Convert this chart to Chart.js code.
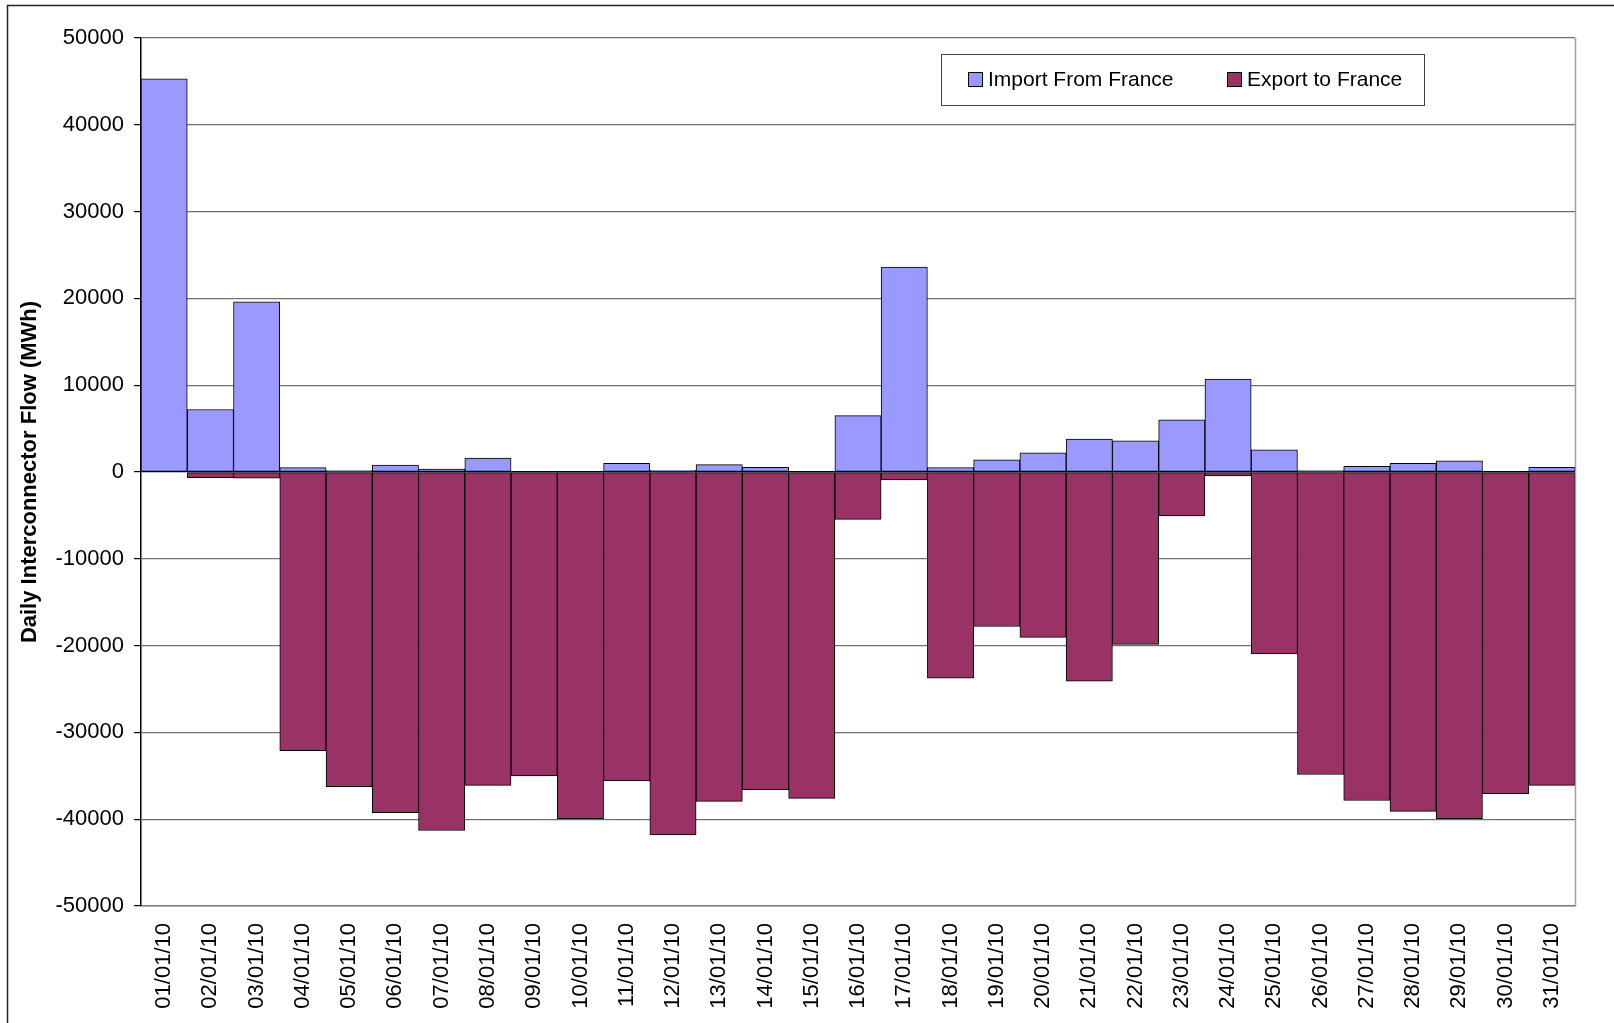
<!DOCTYPE html>
<html>
<head>
<meta charset="utf-8">
<script src="https://cdn.jsdelivr.net/npm/chart.js@4/dist/chart.umd.min.js"></script>
<style>
  html, body { margin: 0; padding: 0; background: #fff; }
  #wrap { width: 1614px; height: 1023px; position: relative; }
</style>
</head>
<body>
<div id="wrap"><canvas id="flowChart" width="1614" height="1023"></canvas></div>
<script>
const days = [
	"01/01/10", "02/01/10", "03/01/10", "04/01/10", "05/01/10", "06/01/10",
	"07/01/10", "08/01/10", "09/01/10", "10/01/10", "11/01/10", "12/01/10",
	"13/01/10", "14/01/10", "15/01/10", "16/01/10", "17/01/10", "18/01/10",
	"19/01/10", "20/01/10", "21/01/10", "22/01/10", "23/01/10", "24/01/10",
	"25/01/10", "26/01/10", "27/01/10", "28/01/10", "29/01/10", "30/01/10",
	"31/01/10",
];

// MWh per day
const importFromFrance = [
	45300, 7200, 19600, 500, 150, 800, 350, 1600, 0, 0, 1000, 200, 850, 550, 0,
	6500, 23600, 500, 1400, 2200, 3800, 3600, 6000, 10700, 2550, 150, 650, 1000,
	1300, 0, 550,
];
const exportToFrance = [
	0, -650, -700, -32100, -36250, -39250, -41300, -36100, -35000, -39950,
	-35600, -41800, -37950, -36600, -37600, -5450, -900, -23750, -17800, -19050,
	-24100, -19850, -5050, -450, -20950, -34850, -37850, -39100, -39950, -37050,
	-36100,
];

const yMin = -50000;
const yMax = 50000;
const yStep = 10000;

const FONT = "'Liberation Sans', Arial, sans-serif";
const IMPORT_COLOR = "#9999FF";
const EXPORT_COLOR = "#993366";

Chart.defaults.font.family = FONT;
Chart.defaults.color = "#000";

// white page + outer frame, right edge of plot, legend box
const decorPlugin = {
	id: "decor",
	beforeDraw(chart) {
		const ctx = chart.ctx;
		ctx.save();
		ctx.fillStyle = "#fff";
		ctx.fillRect(0, 0, chart.width, chart.height);
		ctx.strokeStyle = "#222";
		ctx.lineWidth = 1.5;
		ctx.beginPath();
		ctx.moveTo(7.5, chart.height + 2);
		ctx.lineTo(7.5, 5.5);
		ctx.lineTo(chart.width + 2, 5.5);
		ctx.stroke();
		ctx.restore();
	},
	afterDraw(chart) {
		const { ctx, chartArea: a } = chart;
		ctx.save();
		ctx.strokeStyle = "#a0a0a0";
		ctx.lineWidth = 1.5;
		ctx.beginPath();
		ctx.moveTo(a.right + 0.5, a.top);
		ctx.lineTo(a.right + 0.5, a.bottom);
		ctx.stroke();

		// legend
		const bx = a.right - 634;
		const by = a.top + 16;
		const bw = 483;
		const bh = 51;
		ctx.fillStyle = "#fff";
		ctx.fillRect(bx, by, bw, bh);
		ctx.strokeStyle = "#404040";
		ctx.lineWidth = 1;
		ctx.strokeRect(bx + 0.5, by + 0.5, bw, bh);
		ctx.font = "21px " + FONT;
		ctx.textBaseline = "middle";
		ctx.fillStyle = "#000";
		chart.data.datasets.forEach((ds, i) => {
			const mx = bx + 27 + i * 259;
			const my = by + 18;
			ctx.fillStyle = ds.backgroundColor;
			ctx.fillRect(mx, my, 14, 14);
			ctx.strokeStyle = "#000";
			ctx.strokeRect(mx + 0.5, my + 0.5, 14, 14);
			ctx.fillStyle = "#000";
			ctx.fillText(ds.label, mx + 20, my + 8);
		});
		ctx.restore();
	},
};

new Chart(document.getElementById("flowChart"), {
	type: "bar",
	data: {
		labels: days,
		datasets: [
			{
				label: "Import From France",
				data: importFromFrance,
				backgroundColor: IMPORT_COLOR,
				borderColor: "#000",
				borderWidth: 1,
				borderSkipped: false,
				barPercentage: 1,
				categoryPercentage: 1,
			},
			{
				label: "Export to France",
				data: exportToFrance,
				backgroundColor: EXPORT_COLOR,
				borderColor: "#000",
				borderWidth: 1,
				borderSkipped: false,
				barPercentage: 1,
				categoryPercentage: 1,
			},
		],
	},
	options: {
		responsive: false,
		animation: false,
		layout: { padding: { top: 38, right: 39, bottom: 0, left: 0 } },
		plugins: {
			legend: { display: false },
			tooltip: { enabled: false },
		},
		scales: {
			x: {
				stacked: true,
				grid: { display: false, drawTicks: false },
				border: { display: true, color: "#808080", width: 1.5 },
				ticks: {
					minRotation: 90,
					maxRotation: 90,
					autoSkip: false,
					padding: 17,
					font: { size: 22 },
					color: "#000",
				},
				afterFit(scale) {
					scale.height = 117;
				},
			},
			y: {
				stacked: true,
				min: yMin,
				max: yMax,
				ticks: {
					stepSize: yStep,
					padding: 10,
					font: { size: 22 },
					color: "#000",
					callback: (v) => String(v),
				},
				grid: {
					color: (c) => (c.tick && c.tick.value === 0 ? "#000" : "#707070"),
					lineWidth: 1.2,
					tickLength: 7,
					tickColor: "#000",
				},
				border: { color: "#000", width: 1.5 },
				title: {
					display: true,
					text: "Daily Interconnector Flow (MWh)",
					font: { size: 22, weight: "bold" },
					color: "#000",
					padding: { top: 17, bottom: 0 },
				},
				afterFit(scale) {
					scale.width = 141;
				},
			},
		},
	},
	plugins: [decorPlugin],
});
</script>
</body>
</html>
